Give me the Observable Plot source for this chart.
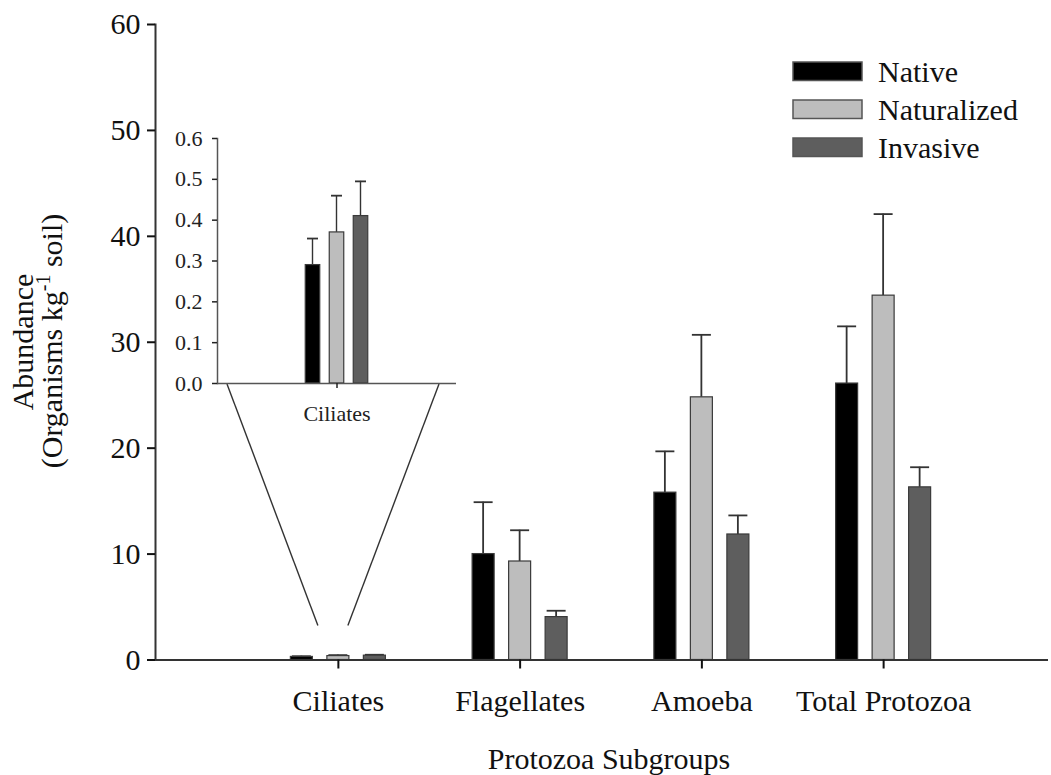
<!DOCTYPE html>
<html>
<head>
<meta charset="utf-8">
<script src="https://cdn.jsdelivr.net/npm/d3@7"></script>
<script src="https://cdn.jsdelivr.net/npm/@observablehq/plot@0.6"></script>
<style>
  body { margin: 0; background: #fff; }
  #wrap { position: relative; width: 1051px; height: 775px; }
  #wrap > svg { position: absolute; }
</style>
</head>
<body>
<div id="wrap"></div>
<script>
// Protozoa abundance by plant origin (mean and standard error)
const categories = ["Ciliates", "Flagellates", "Amoeba", "Total Protozoa"];
const seriesNames = ["Native", "Naturalized", "Invasive"];
const nativeMean = [0.29, 10.0, 15.8, 26.1];
const naturalizedMean = [0.37, 9.3, 24.8, 34.4];
const invasiveMean = [0.41, 4.05, 11.85, 16.3];
const nativeSE = [0.065, 4.9, 3.9, 5.4];
const naturalizedSE = [0.09, 2.95, 5.9, 7.7];
const invasiveSE = [0.085, 0.6, 1.8, 1.9];
const yTicks = [0, 10, 20, 30, 40, 50, 60];
const insetTicks = [0, 0.1, 0.2, 0.3, 0.4, 0.5, 0.6];
const insetCategories = ["Ciliates"];

const seriesFill = ["#000000", "#bdbdbd", "#5e5e5e"];
const means = [nativeMean, naturalizedMean, invasiveMean];
const errors = [nativeSE, naturalizedSE, invasiveSE];

const rows = [];
seriesNames.forEach((s, si) => {
  categories.forEach((c, ci) => {
    rows.push({category: c, series: s, mean: means[si][ci], upper: means[si][ci] + errors[si][ci]});
  });
});

const FONT = "'Liberation Serif', 'Times New Roman', serif";
const AXIS = "#333";

// Three side-by-side bars per category band, each with an upper error bar
function groupedBars(data, bw, step, barW, capW, errW) {
  const marks = [];
  seriesNames.forEach((s, si) => {
    const d = data.filter(r => r.series === s);
    const dx = (si - 1) * step;
    marks.push(Plot.barY(d, {x: "category", y1: "mean", y2: "upper", fill: AXIS,
      insetLeft: (bw - errW) / 2, insetRight: (bw - errW) / 2, dx}));
    marks.push(Plot.tickY(d, {x: "category", y: "upper", stroke: AXIS, strokeWidth: 1.8,
      insetLeft: (bw - capW) / 2, insetRight: (bw - capW) / 2, dx}));
    marks.push(Plot.barY(d, {x: "category", y1: 0, y2: "mean", fill: seriesFill[si],
      stroke: "#3a3a3a", strokeWidth: 1.2,
      insetLeft: (bw - barW) / 2, insetRight: (bw - barW) / 2, dx}));
  });
  return marks;
}

// Main chart
const W = 1051, H = 775;
const xRange = [247, 974];
const mainBw = (xRange[1] - xRange[0]) / categories.length;

const main = Plot.plot({
  width: W, height: H,
  marginLeft: 155, marginRight: 3, marginTop: 24, marginBottom: 115.5,
  style: {fontFamily: FONT, fontSize: "30px", color: "#111", background: "transparent"},
  x: {type: "band", domain: categories, range: xRange, padding: 0, round: false},
  y: {domain: [0, 60]},
  marks: [
    ...groupedBars(rows, mainBw, 36.5, 22, 19, 1.8),
    Plot.ruleY([0], {stroke: AXIS, strokeWidth: 2}),
    Plot.frame({anchor: "left", stroke: AXIS, strokeWidth: 2}),
    Plot.axisY(yTicks, {tickSize: 8, tickPadding: 7, strokeWidth: 2, label: null}),
    Plot.axisX({tickSize: 9, tickPadding: 21, strokeWidth: 2, label: null})
  ]
});
main.style.left = "0px";
main.style.top = "0px";
document.getElementById("wrap").appendChild(main);

// Inset: ciliates on a finer scale
const insetLeftPx = 150, insetTopPx = 120;
const insetW = 320, insetH = 310;
const insetML = 67, insetMR = 14;
const insetBw = insetW - insetML - insetMR;
const ciliates = rows.filter(r => r.category === "Ciliates");

const inset = Plot.plot({
  width: insetW, height: insetH,
  marginLeft: insetML, marginRight: insetMR, marginTop: 18, marginBottom: 47,
  style: {fontFamily: FONT, fontSize: "22px", color: "#222", background: "transparent"},
  x: {type: "band", domain: insetCategories, padding: 0, round: false},
  y: {domain: [0, 0.6]},
  marks: [
    ...groupedBars(ciliates, insetBw, 24, 14.5, 11, 1.4),
    Plot.ruleY([0], {stroke: "#555", strokeWidth: 1.5}),
    Plot.frame({anchor: "left", stroke: "#555", strokeWidth: 1.5}),
    Plot.axisY(insetTicks, {tickSize: 5, tickPadding: 10, tickFormat: d3.format(".1f"), strokeWidth: 1.5, label: null}),
    Plot.axisX({tickSize: 5, tickPadding: 17, strokeWidth: 1.5, label: null})
  ]
});
inset.style.left = insetLeftPx + "px";
inset.style.top = insetTopPx + "px";
document.getElementById("wrap").appendChild(inset);

// Annotation layer on the main chart: zoom lines, legend and axis titles
const svg = d3.select(main);
const xs = main.scale("x"), ys = main.scale("y");
const cilX = xs.apply("Ciliates") + xs.bandwidth / 2;
const insetFrameY = insetTopPx + inset.scale("y").apply(0) + 1;
const insetFrameL = insetLeftPx + insetML;
const insetFrameR = insetLeftPx + insetW - insetMR;
const lowY = ys.apply(3.2);

svg.append("line")
  .attr("x1", insetFrameL + 10).attr("y1", insetFrameY)
  .attr("x2", cilX - 20).attr("y2", lowY)
  .attr("stroke", AXIS).attr("stroke-width", 1.4);
svg.append("line")
  .attr("x1", insetFrameR - 17).attr("y1", insetFrameY)
  .attr("x2", cilX + 10).attr("y2", lowY)
  .attr("stroke", AXIS).attr("stroke-width", 1.4);

const legend = svg.append("g")
  .attr("font-family", FONT).attr("font-size", 30).attr("fill", "#111")
  .attr("text-anchor", "start");
seriesNames.forEach((s, i) => {
  legend.append("rect")
    .attr("x", 793).attr("y", 62 + 38 * i).attr("width", 69).attr("height", 18.5)
    .attr("fill", seriesFill[i]).attr("stroke", "#555").attr("stroke-width", 1.5);
  legend.append("text").attr("x", 878).attr("y", 81.5 + 38 * i).text(s);
});

const yTitle = svg.append("g").attr("font-family", FONT).attr("font-size", 30).attr("fill", "#111");
yTitle.append("text")
  .attr("transform", "translate(33,342) rotate(-90)")
  .attr("text-anchor", "middle")
  .text("Abundance");
const t2 = yTitle.append("text")
  .attr("transform", "translate(62,341) rotate(-90)")
  .attr("text-anchor", "middle");
t2.append("tspan").text("(Organisms kg");
t2.append("tspan").attr("dy", -12).attr("font-size", 20).text("-1");
t2.append("tspan").attr("dy", 12).text(" soil)");

svg.append("text")
  .attr("x", 609).attr("y", 769)
  .attr("text-anchor", "middle")
  .attr("font-family", FONT).attr("font-size", 30).attr("fill", "#111")
  .text("Protozoa Subgroups");
</script>
</body>
</html>
